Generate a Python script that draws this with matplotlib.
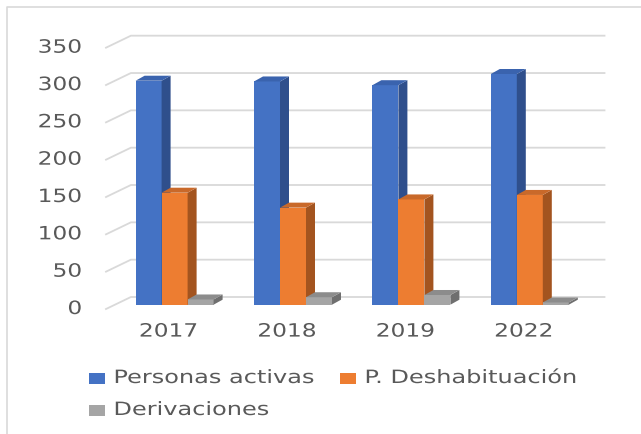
import matplotlib
matplotlib.use("Agg")
import matplotlib.pyplot as plt
from matplotlib.patches import Polygon, Rectangle
from matplotlib.lines import Line2D
from matplotlib.patheffects import AbstractPathEffect
from matplotlib.transforms import Affine2D

# ---- data ----
years = ["2017", "2018", "2019", "2022"]
series_names = ["Personas activas", "P. Deshabituación", "Derivaciones"]
personas_activas = [300, 299, 294, 309]
deshabituacion = [150, 130, 141, 147]
derivaciones = [7, 10, 13, 3]
yticks = [0, 50, 100, 150, 200, 250, 300, 350]

series = [personas_activas, deshabituacion, derivaciones]
front_cols = ["#4472C4", "#ED7D31", "#A5A5A5"]
side_cols = ["#2F4F8C", "#A3541F", "#6F6F6F"]
top_cols = ["#3A63AE", "#C9692A", "#8C8C8C"]
grid_col = "#D9D9D9"
txt_col = "#595959"
FONT = ["DejaVu Sans"]
FS = 13.2
SX_AXIS = 1.27
SX_LEG = 1.31


class HStretch(AbstractPathEffect):
    """Draw text glyphs widened horizontally (the reference is a stretched image)."""

    def __init__(self, sx, anchor="left"):
        super().__init__()
        self.sx = sx
        self.anchor = anchor

    def draw_path(self, renderer, gc, tpath, affine, rgbFace=None):
        ext = tpath.get_extents()
        if self.anchor == "left":
            c = ext.x0
        elif self.anchor == "right":
            c = ext.x1
        else:
            c = (ext.x0 + ext.x1) / 2
        pre = Affine2D().translate(-c, 0).scale(self.sx, 1).translate(c, 0)
        renderer.draw_path(gc, tpath, pre + affine, rgbFace)


W, H = 641, 435
fig = plt.figure(figsize=(W / 100, H / 100), dpi=100)

# axes mapping: x_pix = 115.4 + 118.4*(x+0.5), y_pix = 305.7 - 0.7466*v
CW = 118.4
x0, x1 = -0.75, 3.75
v0, v1 = -20, 370
px_l = 115.4 + CW * (x0 + 0.5)
px_r = 115.4 + CW * (x1 + 0.5)
py_b = 305.7 - 0.7466 * v0
py_t = 305.7 - 0.7466 * v1
ax = fig.add_axes([px_l / W, 1 - py_b / H, (px_r - px_l) / W, (py_b - py_t) / H])
ax.set_xlim(x0, x1)
ax.set_ylim(v0, v1)
ax.axis("off")

# 3D offsets (data units)
BDX, BDY = 9 / CW, 5 / 0.7466            # bar depth
WDX, WDY = 15.5 / CW, 7.7 / 0.7466       # bar front plane -> back wall
FDX, FDY = -9.4 / CW, -4.3 / 0.7466      # bar front plane -> front floor edge

# gridlines + y tick labels
for v in yticks:
    ax.add_line(Line2D([-0.5 + FDX, -0.5 + WDX, 3.5 + WDX],
                       [v + FDY, v + WDY, v + WDY],
                       color=grid_col, lw=1.3, clip_on=False, zorder=1))
    ax.text(-0.5 + FDX - 24 / CW, v + FDY, str(v), ha="right", va="center",
            fontsize=FS, color=txt_col, family=FONT,
            path_effects=[HStretch(SX_AXIS, "right")])

# bars
bw = 26 / CW
for j, vals in enumerate(series):
    xs = [i - bw + j * bw for i in range(len(years))]
    ax.bar(xs, vals, width=bw, align="center", color=front_cols[j],
           zorder=3 + j, clip_on=False)
    for xc, v in zip(xs, vals):
        xl, xr = xc - bw / 2, xc + bw / 2
        side = Polygon([(xr, 0), (xr + BDX, BDY), (xr + BDX, v + BDY), (xr, v)],
                       closed=True, facecolor=side_cols[j], edgecolor="none",
                       zorder=3 + j, clip_on=False)
        top = Polygon([(xl, v), (xr, v), (xr + BDX, v + BDY), (xl + BDX, v + BDY)],
                      closed=True, facecolor=top_cols[j], edgecolor="none",
                      zorder=3 + j, clip_on=False)
        ax.add_patch(side)
        ax.add_patch(top)

# category labels
for i, y in enumerate(years):
    ax.text(i - 0.05, -36, y, ha="center", va="center",
            fontsize=FS, color=txt_col, family=FONT,
            path_effects=[HStretch(SX_AXIS, "center")])


# legend (manual)
def fx(p):
    return p / W


def fy(p):
    return 1 - p / H


leg = [(89, 379, 0), (340, 379, 1), (89, 411, 2)]
for x, y, k in leg:
    fig.add_artist(Rectangle((fx(x), fy(y + 5.5)), 16 / W, 11 / H,
                             transform=fig.transFigure, facecolor=front_cols[k],
                             edgecolor="none"))
    fig.text(fx(x + 25), fy(y), series_names[k], ha="left", va="center",
             fontsize=FS, color=txt_col, family=FONT,
             path_effects=[HStretch(SX_LEG, "left")])

# chart border (top and left)
fig.add_artist(Line2D([fx(7), fx(7), fx(W)], [fy(H), fy(8), fy(8)],
                      transform=fig.transFigure, color=grid_col, lw=1.2))

fig.savefig("out.png", dpi=100)
